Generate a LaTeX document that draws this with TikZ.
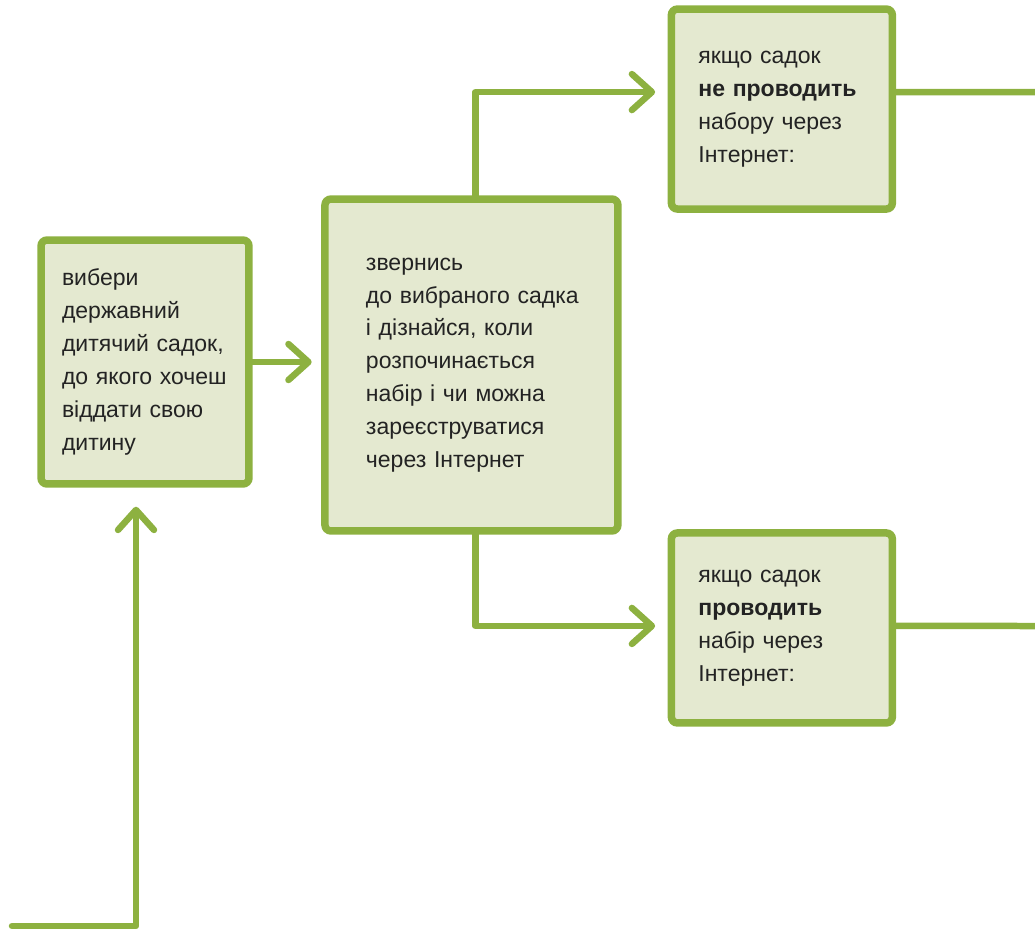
\documentclass[tikz,border=0pt]{standalone}
\usepackage{fontspec}
\setmainfont{Liberation Sans}
\usetikzlibrary{arrows.meta, positioning}
\definecolor{leaf}{RGB}{141, 177, 64}
\definecolor{pale}{RGB}{228, 233, 208}
\definecolor{ink}{RGB}{35, 35, 35}

\begin{document}
\begin{tikzpicture}[
        x=0.02cm, y=-0.02cm,
        font=\fontsize{13.1}{18.7}\selectfont,
        % Styles
        stage/.style={
            rectangle,
            draw=leaf,
            line width=0.15cm,
            rounded corners=0.12cm,
            fill=pale,
            text=ink,
            align=left,
            inner ysep=2pt
        },
        link/.style={line width=0.13cm, draw=leaf, line cap=round, line join=round},
        conn/.style={link, -{Straight Barb[length=0.4cm, width=0.72cm, round]}}
    ]
    \useasboundingbox (0,0) rectangle (1035,930);

    % ==============================
    % 1. CHOOSE
    % ==============================
    \node[stage, text width=3.32cm, inner xsep=0.42cm, minimum height=4.88cm] (choose) at (145,362) {
        вибери\\
        державний\\
        дитячий~садок,\\
        до~якого~хочеш\\
        віддати~свою\\
        дитину
    };

    % ==============================
    % 2. ASK THE KINDERGARTEN
    % ==============================
    \node[stage, text width=4.22cm, inner xsep=0.82cm, minimum height=6.64cm,
          right=1.37cm of choose, yshift=-0.06cm] (ask) {
        звернись\\
        до~вибраного~садка\\
        і дізнайся, коли\\
        розпочинається\\
        набір і чи можна\\
        зареєструватися\\
        через Інтернет
    };

    \draw[conn, shorten >=0.19cm] (choose.east) -- (choose.east -| ask.west);

    % ==============================
    % 3. TWO CASES
    % ==============================
    \node[stage, text width=3.34cm, inner xsep=0.54cm, minimum height=4cm,
          right=0.92cm of ask, yshift=5.12cm] (offline) {
        якщо~садок\\
        \textbf{не~проводить}\\
        набору~через\\
        Інтернет:
    };

    \node[stage, text width=3.34cm, inner xsep=0.54cm, minimum height=3.8cm,
          right=0.92cm of ask, yshift=-5.26cm] (online) {
        якщо~садок\\
        \textbf{проводить}\\
        набір~через\\
        Інтернет:
    };

    \draw[conn, shorten >=0.25cm] ([xshift=0.08cm]ask.north) |- ([yshift=0.34cm]offline.west);
    \draw[conn, shorten >=0.25cm] ([xshift=0.08cm]ask.south) |- ([yshift=0.04cm]online.west);

    % ==============================
    % 4. LOOSE ENDS
    % ==============================
    \coordinate (offline_out) at (1040,92);
    \coordinate (online_out) at (1040,626);
    \coordinate (back_in) at (12,926);

    \draw[link] ([yshift=0.34cm]offline.east) -- (offline_out);
    \draw[link] ([yshift=0.04cm]online.east) -- (online_out);
    \draw[conn, shorten >=0.38cm] (back_in) -| ([xshift=-0.18cm]choose.south);

\end{tikzpicture}
\end{document}
